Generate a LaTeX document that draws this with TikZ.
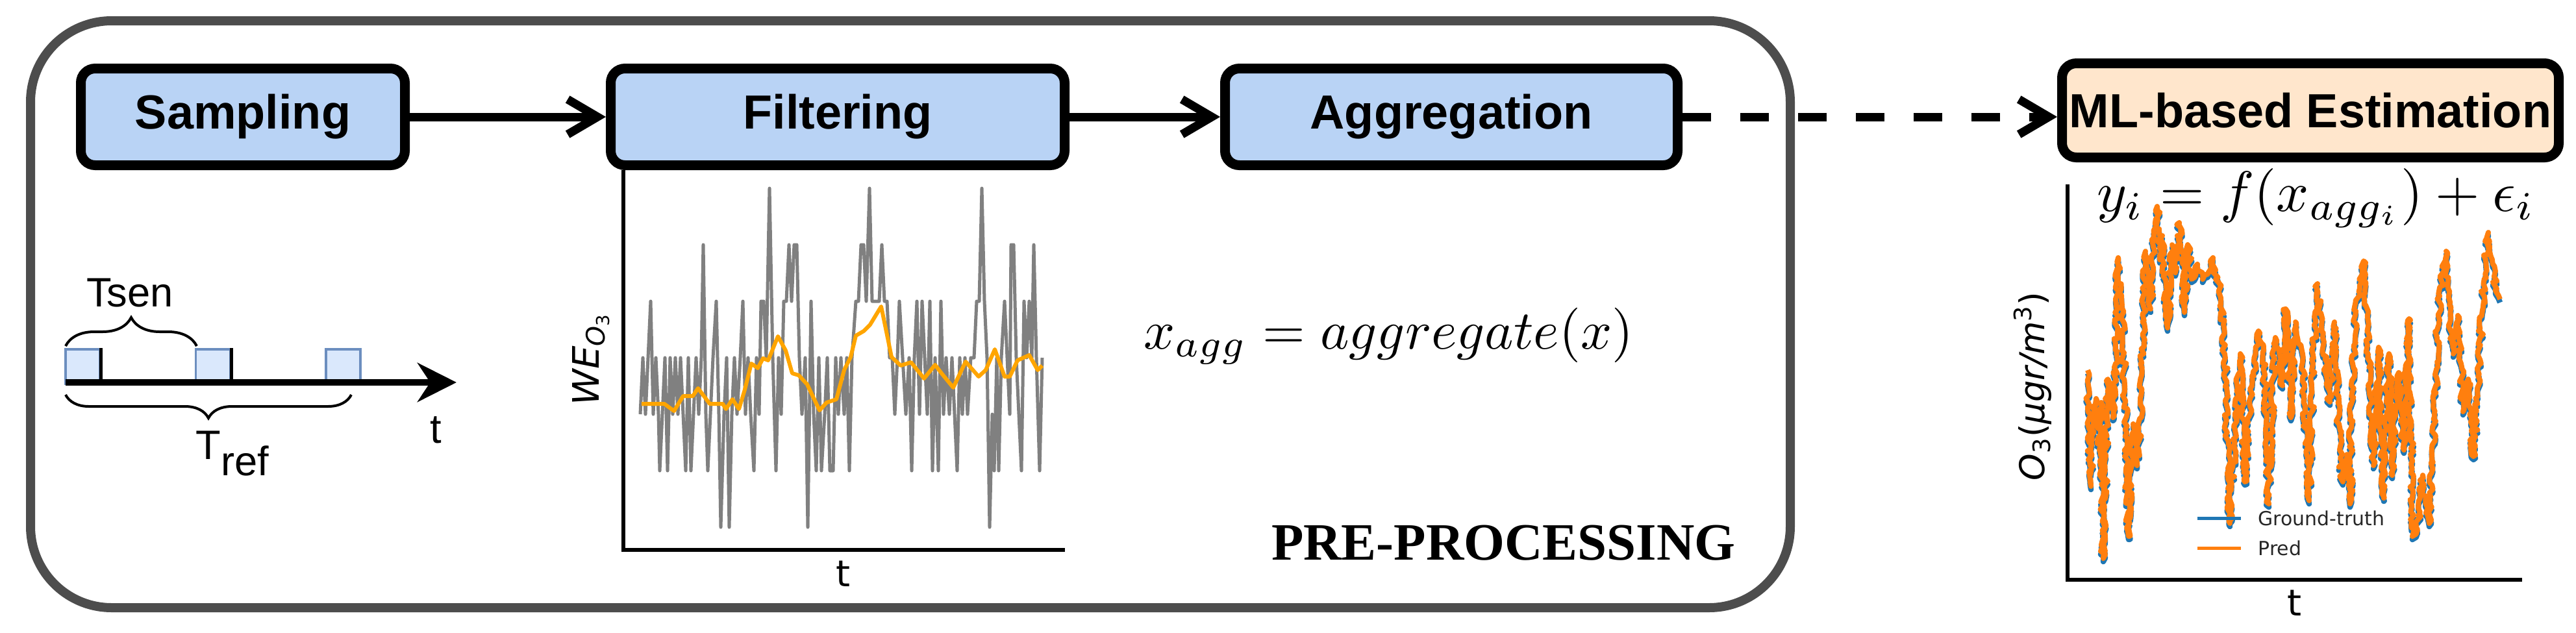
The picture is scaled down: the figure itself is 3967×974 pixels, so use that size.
\RequirePackage{fix-cm}
\documentclass[tikz,border=0pt]{standalone}
\usepackage{fontspec}
\newfontfamily\arial{Liberation Sans}
\newfontfamily\djv{DejaVu Sans}
\newfontfamily\tnr{Liberation Serif}
\usetikzlibrary{arrows.meta,decorations.pathreplacing,decorations.pathmorphing}
\definecolor{boxblue}{HTML}{B9D3F5}
\definecolor{mlfill}{HTML}{FFE6CC}
\definecolor{sqfill}{HTML}{DAE8FC}
\definecolor{sqdraw}{HTML}{6C8EBF}
\definecolor{framegray}{HTML}{4D4D4D}
\definecolor{mplblue}{HTML}{1F77B4}
\definecolor{mplorange}{HTML}{FF7F0E}
\definecolor{sigorange}{HTML}{FFA500}
\definecolor{siggray}{HTML}{808080}
\definecolor{legtext}{HTML}{262626}
\begin{document}
\begin{tikzpicture}[x=0.1mm,y=-0.1mm,
  stagebox/.style={draw=black, line width=1.5mm, rounded corners=2.2mm,
    font=\arial\bfseries\fontsize{21}{25}\selectfont, inner sep=0pt},
  bluebox/.style={stagebox, fill=boxblue, minimum height=14.9mm},
  flowarrow/.style={line width=1.3mm, -{Straight Barb[length=4.6mm,width=5.4mm]}},
  sq/.style={draw=sqdraw, fill=sqfill, line width=0.35mm, minimum size=5.3mm, inner sep=0pt},
  brc/.style={line width=0.4mm, decorate},
  lbl/.style={font=\arial\fontsize{18}{20}\selectfont, inner sep=0pt},
  plotlbl/.style={font=\djv\fontsize{16}{18}\selectfont, inner sep=0pt},
  axisline/.style={line width=0.6mm},
  leg/.style={font=\djv\fontsize{8.5}{10}\selectfont, text=legtext, inner sep=0pt, anchor=west}
]
\useasboundingbox (0,0) rectangle (3967,974);

% outer pre-processing frame
\node[draw=framegray, line width=1.4mm, rounded corners=12.5mm, minimum width=271mm,
  minimum height=90.4mm, inner sep=0pt] (pre) at (1402,484) {};
\node[font=\tnr\bfseries\fontsize{23}{26}\selectfont, anchor=base east, inner sep=0pt]
  (prelbl) at (2673,862) {PRE-PROCESSING};

% stage boxes
\node[bluebox, minimum width=49.9mm] (samp) at (374,180) {Sampling};
\node[bluebox, minimum width=69.9mm] (filt) at (1290,180) {Filtering};
\node[bluebox, minimum width=69.7mm] (agg) at (2235,180) {Aggregation};
\node[stagebox, fill=mlfill, minimum width=76.5mm, minimum height=14.5mm] (ml) at (3558,170) {ML-based Estimation};

\draw[flowarrow] (samp) -- (filt);
\draw[flowarrow] (filt) -- (agg);
\draw[flowarrow, dash pattern=on 4.4mm off 4.5mm] (agg.east) -- (agg.east -| ml.west);

% sampling timeline
\node[sq] (s1) at (127.5,564.5) {};
\node[sq] (s2) at (328,564.5) {};
\node[sq] (s3) at (528.5,564.5) {};
\coordinate (tstart) at (101,589);
\coordinate (tend) at (703,589);
\draw[line width=1mm, -{Stealth[length=6mm,width=6mm]}] (tstart) -- (tend);
\draw[line width=0.5mm] (s1.north east) -- (s1.south east);
\draw[line width=0.5mm] (s2.north east) -- (s2.south east);
\draw[brc, decoration={brace, amplitude=4.4mm}] (101,533) -- (303,533);
\draw[brc, decoration={brace, amplitude=3.6mm}] (541,608) -- (101,608);
\node[lbl, anchor=base] (tsen) at (200,472) {Tsen};
\node[lbl, anchor=base west] (tref) at (301,707) {T\raisebox{-2.5mm}{ref}};
\node[lbl, anchor=base] (tlbl) at (671,682) {t};

% filtering plot
\coordinate (fo) at (960,847);
\coordinate (fx) at (1640,847);
\draw[axisline] (fo |- filt.south) -- (fo) -- (fx);
\node[plotlbl, anchor=base] (ft) at (1299,903) {t};
\node[plotlbl, rotate=90, anchor=base] (fy) at (922,553) {\itshape WE\textsubscript{O\textsubscript{\upshape 3}}};
\draw[siggray, line width=0.5mm, line join=round] (986,638)
  \foreach \x/\k in {990/3,994/4,998/3,1002/2,1006/4,1010/3,1014/4,1016/5,1020/4,1024/3,1028/5,1032/3,1036/4,1040/3,1044/4,1048/3,1052/4,1056/5,1060/3,1064/5,1068/4,1072/3,1076/4,1080/3,1083/1,1087/4,1090/5,1094/4,1098/3,1103/2,1107/4,1110/6,1115/4,1119/3,1123/6,1127/4,1131/3,1135/4,1140/3,1144/2,1148/4,1152/3,1156/4,1161/5,1165/3,1169/4,1172/2,1176/2,1180/3,1185/0,1190/3,1195/5,1199/3,1203/4,1207/2,1211/2,1215/1,1219/2,1223/1,1227/1,1231/3,1235/4,1240/3,1244/6,1249/2,1253/4,1257/5,1261/3,1265/5,1270/4,1274/3,1278/5,1283/5,1287/3,1291/4,1295/3,1300/4,1304/3,1308/5,1312/3,1318/2,1322/2,1326/1,1330/1,1334/2,1339/0,1343/2,1350/2,1354/2,1358/1,1362/2,1366/2,1370/3,1374/3,1378/4,1382/3,1385/2,1390/3,1395/4,1400/3,1404/5,1408/3,1412/2,1416/4,1420/2,1424/3,1428/4,1432/2,1436/5,1440/3,1445/5,1449/2,1453/4,1457/3,1462/4,1466/3,1470/4,1474/5,1478/3,1482/4,1486/3,1490/4,1495/3,1500/3,1504/2,1508/2,1512/0,1516/2,1520/3,1524/6,1528/4,1531/5,1535/3,1538/5,1542/3,1547/2,1551/3,1555/4,1557/1,1561/1,1565/3,1569/4,1573/5,1577/2,1581/3,1585/2,1589/3,1592/1,1596/3,1601/5,1605/3}
  { -- (\x,{290+87*\k}) };
\draw[sigorange, line width=0.6mm, line join=round] (988,622) -- (1023,622) -- (1038,633) -- (1052,610) -- (1067,610) -- (1075,598) -- (1093,622) -- (1113,622) -- (1118,630) -- (1128,615) -- (1138,630) -- (1147,600) -- (1157,560) -- (1167,567) -- (1175,552) -- (1183,555) -- (1198,518) -- (1210,540) -- (1220,575) -- (1230,578) -- (1243,592) -- (1262,632) -- (1273,620) -- (1288,615) -- (1300,570) -- (1310,550) -- (1318,517) -- (1330,510) -- (1340,500) -- (1357,472) -- (1373,550) -- (1387,563) -- (1403,558) -- (1423,583) -- (1440,562) -- (1450,575) -- (1468,597) -- (1487,557) -- (1507,580) -- (1518,570) -- (1532,538) -- (1547,580) -- (1555,580) -- (1567,555) -- (1585,547) -- (1598,570) -- (1605,563);

% aggregation formula
\node[anchor=base west, inner sep=0pt, scale=2.4] (aggf) at (1760,537) {$x_{agg} = aggregate(x)$};

% estimation plot
\coordinate (eo) at (3184,893);
\coordinate (ex) at (3884,893);
\draw[axisline] (eo |- 0,284) -- (eo) -- (ex);
\node[plotlbl, anchor=base] (et) at (3533,948) {t};
\node[font=\djv\fontsize{15}{17}\selectfont, inner sep=0pt, rotate=90, anchor=base] (ey) at (3148,595)
  {\itshape O\textsubscript{\upshape 3}{\upshape(}\textmu gr/m\textsuperscript{\upshape 3}{\upshape)}};
\foreach \c/\dy/\w in {mplblue/5/0.85mm, mplorange/0/0.8mm}{
\pgfmathsetseed{4242}
\draw[\c, line width=\w, line join=round, yshift=-\dy*0.1mm,
  decorate, decoration={random steps, segment length=0.6mm, amplitude=0.4mm}] (3215,570) -- (3220,749) -- (3224,640) -- (3228,614) -- (3233,693) -- (3236,620) -- (3239,860) -- (3246,584) -- (3250,610) -- (3254,643) -- (3258,560) -- (3262,397) -- (3267,461) -- (3272,594) -- (3278,826) -- (3282,700) -- (3285,653) -- (3291,717) -- (3298,604) -- (3304,387) -- (3308,440) -- (3312,476) -- (3316,380) -- (3322,318) -- (3326,400) -- (3330,363) -- (3334,470) -- (3338,505) -- (3345,377) -- (3350,420) -- (3356,343) -- (3360,400) -- (3364,481) -- (3369,377) -- (3375,430) -- (3384,407) -- (3392,430) -- (3400,422) -- (3408,397) -- (3412,430) -- (3418,437) -- (3426,545) -- (3434,806) -- (3438,720) -- (3442,693) -- (3446,600) -- (3450,545) -- (3457,742) -- (3462,650) -- (3468,594) -- (3474,560) -- (3478,510) -- (3486,540) -- (3494,776) -- (3500,600) -- (3504,520) -- (3510,560) -- (3515,594) -- (3520,476) -- (3528,643) -- (3532,560) -- (3535,496) -- (3540,530) -- (3546,545) -- (3552,700) -- (3556,771) -- (3562,560) -- (3569,437) -- (3577,520) -- (3583,580) -- (3588,619) -- (3595,496) -- (3600,600) -- (3603,693) -- (3608,742) -- (3614,700) -- (3619,776) -- (3623,560) -- (3627,486) -- (3634,440) -- (3640,402) -- (3647,545) -- (3652,640) -- (3655,717) -- (3660,600) -- (3663,535) -- (3667,680) -- (3671,767) -- (3675,620) -- (3679,545) -- (3684,732) -- (3689,640) -- (3694,574) -- (3702,693) -- (3706,560) -- (3710,491) -- (3715,826) -- (3723,816) -- (3727,760) -- (3731,732) -- (3736,790) -- (3741,806) -- (3745,700) -- (3749,643) -- (3753,520) -- (3757,456) -- (3762,420) -- (3767,387) -- (3772,470) -- (3778,545) -- (3785,486) -- (3790,560) -- (3793,634) -- (3801,584) -- (3805,650) -- (3809,703) -- (3815,600) -- (3822,486) -- (3828,400) -- (3832,358) -- (3838,400) -- (3843,446) -- (3850,461);
}
\node[anchor=base west, inner sep=0pt, scale=2.5] (estf) at (3228,325) {$y_i = f(x_{agg_i}) + \epsilon_i$};
\coordinate (lgb) at (3384,798);
\coordinate (lgo) at (3384,844);
\draw[mplblue, line width=0.5mm] (lgb) -- ++(67,0);
\draw[mplorange, line width=0.5mm] (lgo) -- ++(67,0);
\node[leg] (lgbt) at (3477,798) {Ground-truth};
\node[leg] (lgot) at (3477,844) {Pred};
\end{tikzpicture}
\end{document}
